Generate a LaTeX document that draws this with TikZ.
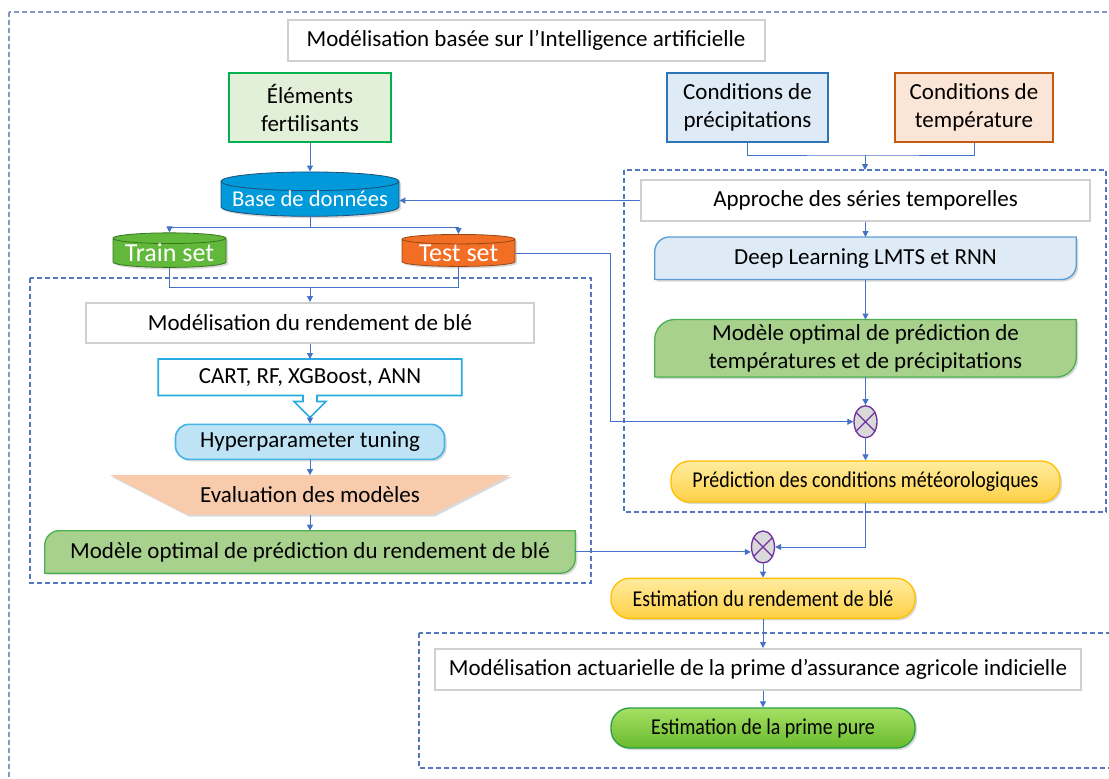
\documentclass[tikz,border=0pt]{standalone}
\usepackage{fontspec}
\setmainfont{Carlito}
\newfontfamily\narrowfont[FakeStretch=0.88]{Carlito}
\usetikzlibrary{shapes.geometric,arrows.meta,positioning,shadows,backgrounds,calc}

\definecolor{linkblue}{RGB}{68,114,196}
\definecolor{dashblue}{RGB}{84,120,190}
\definecolor{framegray}{RGB}{130,152,196}
\definecolor{boxgray}{RGB}{208,208,208}
\definecolor{fertfill}{RGB}{226,240,217}
\definecolor{fertline}{RGB}{0,176,80}
\definecolor{precfill}{RGB}{222,235,247}
\definecolor{precline}{RGB}{46,117,182}
\definecolor{tempfill}{RGB}{251,229,214}
\definecolor{templine}{RGB}{197,90,17}
\definecolor{dbfill}{RGB}{0,154,218}
\definecolor{dbline}{RGB}{31,78,121}
\definecolor{trainfill}{RGB}{98,184,58}
\definecolor{trainline}{RGB}{56,118,29}
\definecolor{testfill}{RGB}{242,110,36}
\definecolor{testline}{RGB}{150,70,20}
\definecolor{dlline}{RGB}{91,155,213}
\definecolor{modfill}{RGB}{169,209,142}
\definecolor{modline}{RGB}{76,176,80}
\definecolor{cartline}{RGB}{41,171,226}
\definecolor{hypfill}{RGB}{189,227,245}
\definecolor{hypline}{RGB}{69,179,231}
\definecolor{evalfill}{RGB}{248,203,173}
\definecolor{goldline}{RGB}{255,192,0}
\definecolor{goldtop}{RGB}{255,236,160}
\definecolor{goldbot}{RGB}{255,208,70}
\definecolor{primetop}{RGB}{165,224,100}
\definecolor{primebot}{RGB}{105,186,45}
\definecolor{primeline}{RGB}{40,160,70}
\definecolor{crossfill}{RGB}{217,217,217}
\definecolor{crossline}{RGB}{112,48,160}

% box with rounded top-left and bottom-right corners
\newcommand{\leafbox}[3]{%
  \path[#2] (#1.south west) -- ([yshift=-#3]#1.north west)
    arc[start angle=180,end angle=90,radius=#3] -- (#1.north east)
    -- ([yshift=#3]#1.south east) arc[start angle=0,end angle=-90,radius=#3] -- cycle;}

\begin{document}
\begin{tikzpicture}[x=0.75pt,y=-0.75pt,->,>={Triangle[length=4.5pt,width=4.5pt]},
  every node/.style={font=\fontsize{17.25}{21}\selectfont,align=center,inner sep=0pt},
  link/.style={draw=linkblue,line width=0.75pt},
  frame/.style={-,draw=dashblue,line width=0.9pt,dash pattern=on 3.5pt off 2.5pt},
  shade/.style={drop shadow={opacity=0.3,shadow xshift=1.5pt,shadow yshift=-1.5pt}},
  plainbox/.style={draw=boxgray,line width=1.5pt,fill=white},
  colbox/.style={draw=#1line,fill=#1fill,line width=1.6pt},
  base/.style={cylinder,shape border rotate=90,aspect=0.12,draw=#1line,line width=0.6pt,
    fill=#1fill,text=white,minimum height=24pt,shade},
  cross/.style={ellipse,draw=crossline,fill=crossfill,line width=1pt,
    minimum width=17.25pt,minimum height=24pt},
  hyp/.style={draw=hypline,fill=hypfill,line width=1.2pt,rounded corners=10pt,shade},
  gold/.style={draw=goldline,line width=1pt,top color=goldtop,bottom color=goldbot,
    rounded corners=14pt,font=\narrowfont\fontsize{17}{20}\selectfont,shade},
  primebox/.style={draw=primeline,line width=1pt,top color=primetop,bottom color=primebot,
    rounded corners=14pt,font=\narrowfont\fontsize{17}{20}\selectfont,shade}]

  \useasboundingbox (0,0) rectangle (1109,778);

  % dashed frames
  \begin{scope}
    \clip (0,0) rectangle (1109,778);
    \draw[frame,draw=framegray] (9,12) rectangle (1130,800);
    \draw[frame] (30,278) rectangle (591,583);
    \draw[frame] (624,170) rectangle (1106,512);
    \draw[frame] (419,633) rectangle (1130,768);
  \end{scope}

  % top row
  \node[plainbox,minimum width=357.75pt,minimum height=30.75pt] (ia) at (526,40.5)
    {Modélisation basée sur l’Intelligence artificielle};
  \node[colbox=fert,minimum width=121.5pt,minimum height=51.75pt] (fert) at (310,107.5)
    {Éléments\\fertilisants};
  \node[colbox=prec,minimum width=120.75pt,minimum height=51.75pt] (prec) at (747.5,107.5)
    {Conditions de\\précipitations};
  \node[colbox=temp,minimum width=118.5pt,minimum height=51.75pt] (temp) at (974,107.5)
    {Conditions de\\température};

  % time series branch
  \node[plainbox,minimum width=336.75pt,minimum height=30.75pt] (series) at (865.5,200.5)
    {Approche des séries temporelles};
  \node[minimum width=315.75pt,minimum height=31.5pt,below=11.25pt of series] (deep)
    {Deep Learning LMTS et RNN};
  \node[minimum width=315.75pt,minimum height=42.75pt,below=30pt of deep] (optT)
    {Modèle optimal de prédiction de\\températures et de précipitations};
  \node[cross,below=21pt of optT] (mulA) {};
  \node[gold,minimum width=291.75pt,minimum height=30.75pt,below=16.5pt of mulA] (meteo)
    {Prédiction des conditions météorologiques};

  % data and wheat yield branch
  \node[base=db,minimum width=133.5pt,font=\fontsize{17}{20}\selectfont] (db) at (310,199)
    {Base de données};
  \node[base=train,minimum width=84.75pt,font=\fontsize{19.5}{22}\selectfont] (train) at (169.5,253)
    {Train set};
  \node[base=test,minimum width=84.75pt,font=\fontsize{19.5}{22}\selectfont] (test) at (458.5,253)
    {Test set};
  \node[plainbox,minimum width=336pt,minimum height=30pt] (wheat) at (310,323)
    {Modélisation du rendement de blé};
  \node[minimum width=227.25pt,minimum height=27pt,below=11.25pt of wheat] (algo)
    {CART, RF, XGBoost, ANN};
  \node[hyp,minimum width=201.75pt,minimum height=26.25pt,below=21pt of algo] (tune)
    {Hyperparameter tuning};
  \node[minimum width=299.25pt,minimum height=29.25pt,below=11.25pt of tune] (eval)
    {Evaluation des modèles};
  \node[minimum width=397.5pt,minimum height=31.5pt,below=12pt of eval] (optW)
    {Modèle optimal de prédiction du rendement de blé};

  % bottom part
  \node[cross] (mulB) at (763,547) {};
  \node[gold,minimum width=228pt,minimum height=30pt,below=10.5pt of mulB] (yield)
    {Estimation du rendement de blé};
  \node[plainbox,minimum width=484.5pt,minimum height=30.75pt] (actu) at (758,669.5)
    {Modélisation actuarielle de la prime d’assurance agricole indicielle};
  \node[primebox,minimum width=228pt,minimum height=30pt] (prime) at (763,728)
    {Estimation de la prime pure};

  % shapes behind the texts
  \begin{scope}[on background layer]
    \leafbox{deep}{-,fill=precfill,draw=dlline,line width=1pt,shade}{11pt}
    \leafbox{optT}{-,fill=modfill,draw=modline,line width=1pt,shade}{15pt}
    \leafbox{optW}{-,fill=modfill,draw=modline,line width=1pt,shade}{11pt}
    \path[-,fill=evalfill,shade] (eval.north west) -- (eval.north east)
      -- ([xshift=-57.75pt]eval.south east) -- ([xshift=57.75pt]eval.south west) -- cycle;
    \path[-,fill=white,draw=cartline,line width=1.2pt] (algo.south west) |- (algo.north east)
      |- ($(algo.south)+(7,0)$) -- ++(0,6) -- ++(9,0) -- ($(algo.south)+(0,22)$)
      -- ($(algo.south)+(-16,6)$) -- ++(9,0) -- ($(algo.south)+(-7,0)$) -- cycle;
  \end{scope}

  % crosses
  \foreach \m in {mulA,mulB}
    \draw[-,crossline,line width=1pt] (\m.45) -- (\m.225) (\m.135) -- (\m.315);

  % connectors
  \coordinate (meet) at (865,155);
  \coordinate (rtop) at (865,170);
  \draw[link,-] (prec.south) |- (meet) -| (temp.south);
  \draw[link] (meet) -- (rtop);
  \draw[link] (fert) -- (db);
  \draw[link] (series.west) -- (series.west -| db.east);

  \coordinate (split) at (310,227);
  \draw[link,-] (db.south) -- (split);
  \draw[link] (split) -| (train.north);
  \draw[link] (split) -| (test.north);
  \coordinate (merge) at (310,287);
  \draw[link,-] (train.south) |- (merge);
  \draw[link,-] (test.south) |- (merge);
  \draw[link] (merge) -- (wheat.north);
  \draw[link] (wheat) -- (algo);
  \coordinate (tip) at ($(algo.south)+(0,20)$);
  \draw[link] (tip) -- (tune.north);
  \draw[link] (tune) -- (eval);
  \draw[link] (eval) -- (optW);

  \draw[link] (series) -- (deep);
  \draw[link] (deep) -- (optT);
  \draw[link] (optT) -- (mulA);
  \coordinate (testbend) at (610,0);
  \draw[link] (test.east) -| (testbend |- mulA.west) -- (mulA.west);
  \draw[link] (mulA) -- (meteo);
  \draw[link] (meteo.south) |- (mulB.east);
  \draw[link] (optW.east) -- (optW.east -| mulB.west);
  \draw[link] (mulB) -- (yield);
  \draw[link] (yield.south) -- (yield.south |- actu.north);
  \draw[link] (prime.north |- actu.south) -- (prime.north);
\end{tikzpicture}
\end{document}
